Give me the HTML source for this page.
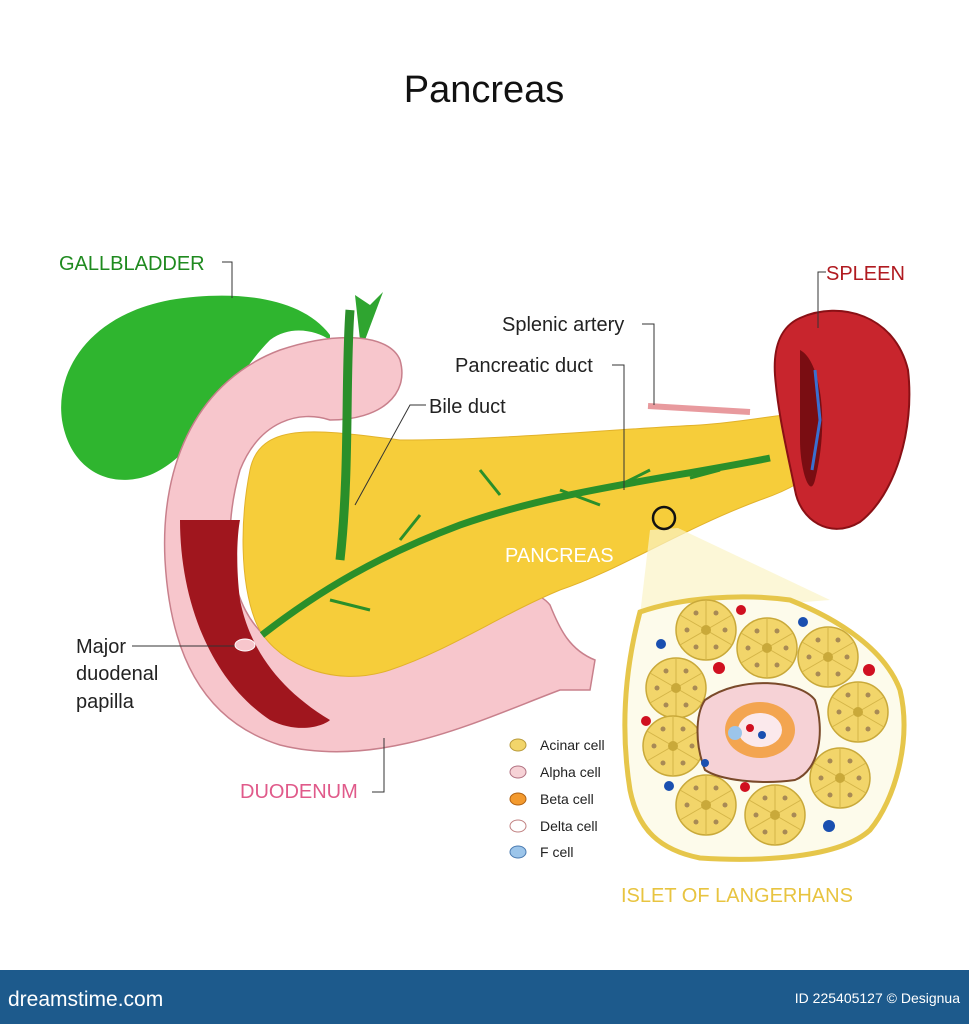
<!DOCTYPE html>
<html><head><meta charset="utf-8"><style>
body{margin:0;background:#fff;width:969px;height:1024px;overflow:hidden;font-family:"Liberation Sans",sans-serif}
</style></head><body>
<svg width="969" height="1024" viewBox="0 0 969 1024" xmlns="http://www.w3.org/2000/svg" font-family="Liberation Sans, sans-serif">
<defs>
<g id="ac">
<circle r="30" fill="#f2d56a" stroke="#c9a93a" stroke-width="1.5"/>
<g stroke="#d4b548" stroke-width="1"><line x1="0" y1="0" x2="0" y2="-30"/><line x1="0" y1="0" x2="26" y2="-15"/><line x1="0" y1="0" x2="26" y2="15"/><line x1="0" y1="0" x2="0" y2="30"/><line x1="0" y1="0" x2="-26" y2="15"/><line x1="0" y1="0" x2="-26" y2="-15"/></g>
<circle r="5" fill="#c9a93a"/>
<g fill="#a88a55"><circle cx="10" cy="-17" r="2.5"/><circle cx="19" cy="0" r="2.5"/><circle cx="10" cy="17" r="2.5"/><circle cx="-10" cy="17" r="2.5"/><circle cx="-19" cy="0" r="2.5"/><circle cx="-10" cy="-17" r="2.5"/></g>
</g>
</defs>
<text x="484" y="102" text-anchor="middle" font-size="38" fill="#111">Pancreas</text>
<!-- gallbladder -->
<path d="M330,335 C300,295 230,290 170,300 C90,315 55,370 62,420 C70,470 110,490 150,475 C200,455 230,380 270,340 C290,325 315,330 330,340 Z" fill="#2fb52f"/>
<path d="M355,295 L360,340 L365,340 L383,292 L370,305 Z" fill="#2fa530"/>
<!-- duodenum -->
<path d="M400,360 C390,335 340,330 280,350 C200,380 160,460 165,560 C170,650 200,720 280,745 C380,770 480,720 560,690 L590,690 L595,660 C570,650 560,630 550,605 C530,580 490,600 440,625 C380,655 320,670 270,640 C230,610 220,540 240,470 C260,420 300,410 330,420 C380,420 410,395 400,360 Z" fill="#f7c6cc" stroke="#c8808c" stroke-width="1.5"/>
<path d="M180,520 C180,600 210,680 270,720 C300,735 325,725 330,720 C280,690 250,650 240,600 C235,560 238,530 240,520 Z" fill="#a0161e"/>
<!-- pancreas -->
<path d="M250,470 C260,420 320,430 400,440 C500,440 600,430 700,425 C770,420 810,405 828,420 C840,450 820,480 760,500 C680,530 620,570 560,590 C500,615 450,650 390,670 C330,690 270,660 255,620 C240,580 240,520 250,470 Z" fill="#f6cd3a" stroke="#e2b22a" stroke-width="1"/>
<!-- ducts -->
<path d="M350,310 C345,380 350,470 340,560" stroke="#2a8f2a" stroke-width="9" fill="none"/>
<path d="M262,635 C320,590 380,555 460,525 C560,490 660,480 770,458" stroke="#2a8f2a" stroke-width="7" fill="none"/>
<path d="M420,515 L400,540 M500,495 L480,470 M560,490 L600,505 M620,485 L650,470 M690,478 L720,470 M330,600 L370,610" stroke="#2a8f2a" stroke-width="3" fill="none"/>
<!-- spleen -->
<path d="M800,318 C840,300 895,315 908,370 C915,430 895,495 860,522 C830,540 800,520 795,490 C788,455 778,415 775,375 C773,345 782,326 800,318 Z" fill="#c8252d" stroke="#8a1015" stroke-width="2"/>
<path d="M800,350 C820,360 830,420 815,480 C810,500 800,470 800,440 Z" fill="#7a0d12"/>
<path d="M815,370 L820,420 L812,470" stroke="#3a6fd0" stroke-width="3" fill="none"/>
<path d="M648,406 L750,412" stroke="#e89a9e" stroke-width="6"/>
<!-- islet zoom lines -->
<polygon points="650,530 678,528 830,600 640,615" fill="#fbf3c6" opacity="0.7"/>
<circle cx="664" cy="518" r="11" fill="none" stroke="#111" stroke-width="2.5"/>
<path d="M640,612 C680,598 740,593 790,600 C840,620 885,650 900,690 C912,740 895,800 870,830 C840,858 760,862 700,858 C660,850 638,830 630,790 C622,740 622,680 640,612 Z" fill="#fdfbeb" stroke="#e6c64a" stroke-width="5"/>
<use href="#ac" x="706" y="630"/><use href="#ac" x="767" y="648"/><use href="#ac" x="828" y="657"/>
<use href="#ac" x="676" y="688"/><use href="#ac" x="858" y="712"/><use href="#ac" x="673" y="746"/>
<use href="#ac" x="840" y="778"/><use href="#ac" x="706" y="805"/><use href="#ac" x="775" y="815"/>
<path d="M705,700 C740,675 800,680 815,700 C825,730 820,770 795,780 C760,785 720,780 705,770 C695,745 695,715 705,700 Z" fill="#f6d2d6" stroke="#7a4a2a" stroke-width="2"/>
<ellipse cx="760" cy="730" rx="35" ry="28" fill="#f39a2e" opacity="0.8"/>
<ellipse cx="760" cy="730" rx="22" ry="17" fill="#fbe9ec"/>
<circle cx="735" cy="733" r="7" fill="#9cc5ea"/><circle cx="750" cy="728" r="4" fill="#d01020"/><circle cx="762" cy="735" r="4" fill="#1a4fb0"/>
<g fill="#d01020"><circle cx="741" cy="610" r="5"/><circle cx="719" cy="668" r="6"/><circle cx="869" cy="670" r="6"/><circle cx="646" cy="721" r="5"/><circle cx="745" cy="787" r="5"/></g>
<g fill="#1a4fb0"><circle cx="803" cy="622" r="5"/><circle cx="661" cy="644" r="5"/><circle cx="705" cy="763" r="4"/><circle cx="669" cy="786" r="5"/><circle cx="829" cy="826" r="6"/></g>
<!-- legend -->
<g font-size="14" fill="#222">
<ellipse cx="518" cy="745" rx="8" ry="6" fill="#f2d56a" stroke="#b89a3a"/><text x="540" y="750">Acinar  cell</text>
<ellipse cx="518" cy="772" rx="8" ry="6" fill="#f6d2d6" stroke="#b07080"/><text x="540" y="777">Alpha cell</text>
<ellipse cx="518" cy="799" rx="8" ry="6" fill="#f39a2e" stroke="#b06010"/><text x="540" y="804">Beta cell</text>
<ellipse cx="518" cy="826" rx="8" ry="6" fill="#fff" stroke="#c08080"/><text x="540" y="831">Delta cell</text>
<ellipse cx="518" cy="852" rx="8" ry="6" fill="#9cc5ea" stroke="#4a7ab0"/><text x="540" y="857">F cell</text>
</g>
<!-- labels -->
<text x="59" y="270" font-size="20" fill="#1f8a1f">GALLBLADDER</text>
<path d="M222,262 L232,262 L232,298" stroke="#333" fill="none"/>
<text x="826" y="280" font-size="20" fill="#b01a20">SPLEEN</text>
<path d="M826,272 L818,272 L818,328" stroke="#333" fill="none"/>
<text x="502" y="331" font-size="20" fill="#222">Splenic artery</text>
<path d="M642,324 L654,324 L654,405" stroke="#333" fill="none"/>
<text x="455" y="372" font-size="20" fill="#222">Pancreatic duct</text>
<path d="M612,365 L624,365 L624,490" stroke="#333" fill="none"/>
<text x="429" y="413" font-size="20" fill="#222">Bile duct</text>
<path d="M426,405 L410,405 L355,505" stroke="#333" fill="none"/>
<text x="505" y="562" font-size="20" fill="#fff">PANCREAS</text>
<text x="76" y="653" font-size="20" fill="#222">Major</text>
<text x="76" y="680" font-size="20" fill="#222">duodenal</text>
<text x="76" y="708" font-size="20" fill="#222">papilla</text>
<path d="M132,646 L240,646" stroke="#333" fill="none"/>
<ellipse cx="245" cy="645" rx="10" ry="6" fill="#f7c6cc" stroke="#fff"/>
<text x="240" y="798" font-size="20" fill="#e05a8a">DUODENUM</text>
<path d="M372,792 L384,792 L384,738" stroke="#333" fill="none"/>
<text x="621" y="902" font-size="20" fill="#e8c440">ISLET OF LANGERHANS</text>
<!-- bottom bar -->
<rect x="0" y="970" width="969" height="54" fill="#1d5a8c"/>
<text x="8" y="1006" font-size="21" fill="#fff">dreamstime.com</text>
<text x="960" y="1003" font-size="14" fill="#fff" text-anchor="end">ID 225405127 © Designua</text>
</svg>
</body></html>
